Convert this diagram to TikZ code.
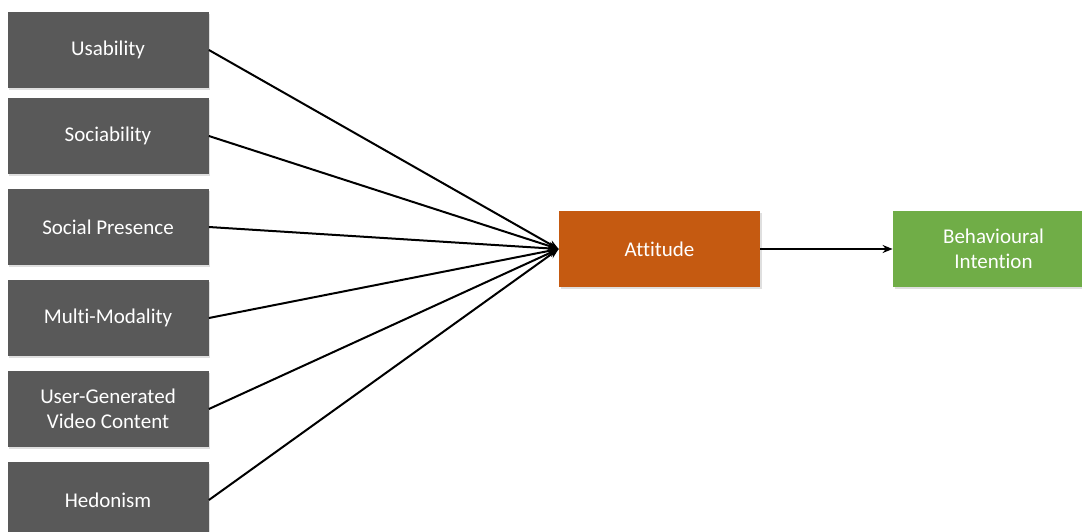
\documentclass[tikz,border=0pt]{standalone}
\usepackage{fontspec}
\setmainfont[Ligatures=NoCommon]{Carlito}
\usepackage{xcolor}
\usetikzlibrary{arrows.meta, positioning, shadows}

\definecolor{boxgray}{HTML}{595959}
\definecolor{attorange}{HTML}{C55A11}
\definecolor{intgreen}{HTML}{70AD47}

\begin{document}
\begin{tikzpicture}[
  x=0.5pt, y=-0.5pt,
  factor/.style={rectangle, fill=boxgray, minimum width=100.5pt, minimum height=38pt, align=center,
    text=white, font=\fontsize{10.5}{12.6}\selectfont, inner sep=2pt,
    drop shadow={opacity=0.25, shadow xshift=0.8pt, shadow yshift=-0.8pt}},
  outcome/.style={factor, fill=#1},
  link/.style={-{Stealth[length=5pt, width=4pt]}, line width=1pt, black},
]
  \useasboundingbox (0,0) rectangle (1082,531);

  \node[factor] (usab) at (108,50) {Usability};
  \node[factor] (soc) at (108,136) {Sociability};
  \node[factor] (pres) at (108,227) {Social Presence};
  \node[factor] (multi) at (108,318) {Multi-Modality};
  \node[factor] (ugvc) at (108,409) {User-Generated\\Video Content};
  \node[factor] (hedo) at (108,500) {Hedonism};

  \node[outcome=attorange] (att) at (659.5,249) {Attitude};
  \node[outcome=intgreen] (intent) at (993.5,249) {Behavioural\\Intention};

  \foreach \f in {usab, soc, pres, multi, ugvc, hedo}
    \draw[link] (\f.east) -- (att.west);
  \draw[link] (att) -- (intent);
\end{tikzpicture}
\end{document}
